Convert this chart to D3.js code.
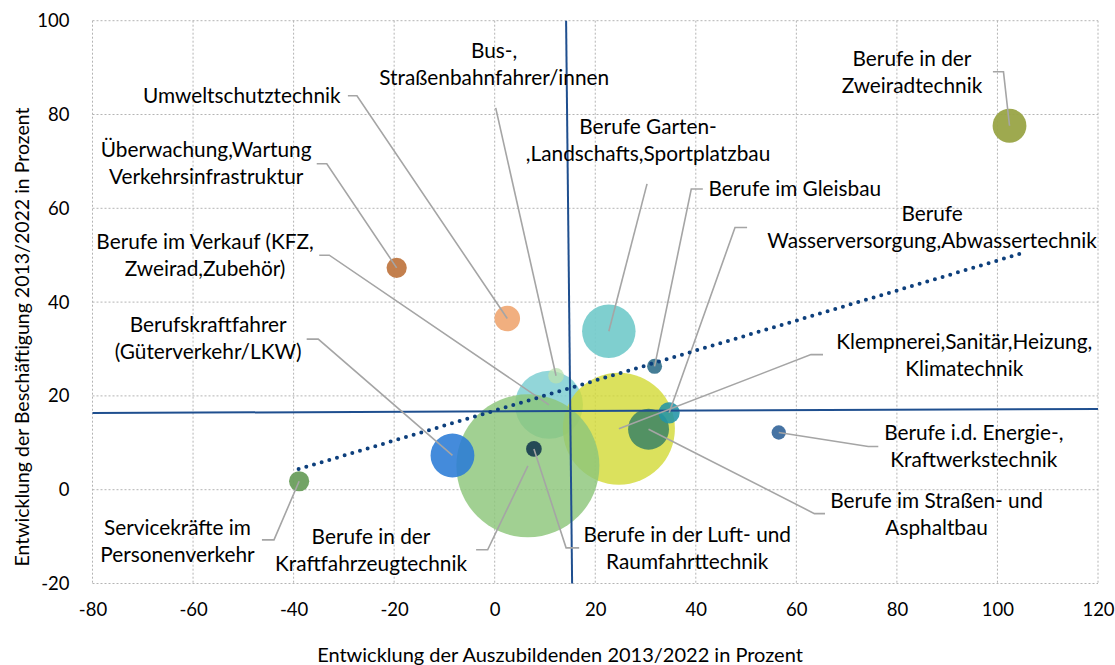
<!DOCTYPE html>
<html>
<head>
<meta charset="utf-8">
<script src="https://cdn.jsdelivr.net/npm/d3@7"></script>
<style>
  body { margin: 0; background: #fff; }
  svg text { font-family: Lato, "Open Sans", sans-serif; fill: #000; }
</style>
</head>
<body>
<svg id="chart" width="1115" height="665"></svg>
<script>
// Berufe (Reihenfolge = Zeichenreihenfolge)
const berufe = [
  ["Berufe im Verkauf (KFZ,", "Zweirad,Zubehör)"],
  ["Klempnerei,Sanitär,Heizung,", "Klimatechnik"],
  ["Berufe in der", "Kraftfahrzeugtechnik"],
  ["Berufskraftfahrer", "(Güterverkehr/LKW)"],
  ["Berufe Garten-", ",Landschafts,Sportplatzbau"],
  ["Berufe im Straßen- und", "Asphaltbau"],
  ["Berufe", "Wasserversorgung,Abwassertechnik"],
  ["Berufe im Gleisbau"],
  ["Berufe in der Luft- und", "Raumfahrttechnik"],
  ["Bus-,", "Straßenbahnfahrer/innen"],
  ["Umweltschutztechnik"],
  ["Überwachung,Wartung", "Verkehrsinfrastruktur"],
  ["Servicekräfte im", "Personenverkehr"],
  ["Berufe i.d. Energie-,", "Kraftwerkstechnik"],
  ["Berufe in der", "Zweiradtechnik"]
];
// Entwicklung der Auszubildenden 2013/2022 in %
const azubis = [10.8, 24.7, 6.6, -8.4, 22.7, 30.6, 34.7, 31.8, 7.8, 12.2, 2.5, -19.5, -38.9, 56.5, 102.4];
// Entwicklung der Beschäftigung 2013/2022 in %
const beschaeftigung = [18.1, 13.0, 5.1, 7.3, 33.8, 12.9, 16.4, 26.3, 8.7, 24.3, 36.5, 47.3, 1.8, 12.2, 77.6];
// Blasengröße (relativ)
const groesse = [113, 307, 500, 47, 70, 41, 11, 5.5, 6, 6, 16, 10, 10, 5, 28];

// Beschriftungen in Datenkoordinaten: Textmitte, Start und Knick der Führungslinie
const labelX = [-57.6, 93.4, -24.6, -57.0, 30.5, 87.9, 87.0, 59.7, 38.3, -0.1, -50.3, -57.4, -63.1, 95.3, 83.0];
const labelY = [52.9, 31.6, -10.0, 35.2, 77.3, -2.3, 58.8, 64.1, -9.6, 93.6, 84.0, 72.5, -8.2, 12.1, 92.0];
const leaderStart = [[-34.9, 50.0], [65.3, 28.8], [-3.7, -12.8], [-37.4, 32.1], [30.3, 65.2], [65.7, -5.1], [50.2, 55.9], [41.4, 64.1], [16.8, -12.4], [0.2, 81.4], [-29.2, 84.0], [-35.4, 69.5], [-46.3, -10.7], [76.3, 9.2], [99.1, 89.1]];
const leaderBend = [[-32.9, 50.0], [62.9, 28.8], [-1.4, -12.8], [-35.1, 32.1], null, [63.6, -5.1], [47.8, 55.9], [39.1, 64.1], [14.2, -12.4], null, [-27.4, 84.0], [-33.4, 69.5], [-43.9, -10.7], [74.3, 9.2], [101.2, 89.1]];

// Mittelwertlinien und Trendlinie
const mittelVertikal = [[14.2, 100], [15.4, -20]];
const mittelHorizontal = [[-80, 16.35], [120, 17.2]];
const trend = [[-39.0, 4.4], [104.5, 50.3]];

const xTicks = [-80, -60, -40, -20, 0, 20, 40, 60, 80, 100, 120];
const yTicks = [-20, 0, 20, 40, 60, 80, 100];

const farben = ["#7fcfd2", "#d2da35", "#8cc67a", "#2a7bd6", "#74cbcb", "#3f8564", "#2294a6", "#3b7690", "#244a56", "#b9e1ae", "#f0ab78", "#c07843", "#6a9e5d", "#3c6b9e", "#99a446"];
const deckkraft = [0.85, 0.8, 0.82, 0.88, 0.92, 0.88, 0.88, 0.95, 1, 0.75, 0.95, 0.95, 0.95, 0.95, 0.95];

const svg = d3.select("#chart");
const x = d3.scaleLinear().domain([-80, 120]).range([92.5, 1098]);
const y = d3.scaleLinear().domain([-20, 100]).range([583.5, 20.7]);
const r = d3.scaleSqrt().domain([0, 500]).range([0, 71.5]);

// Gitter
const grid = svg.append("g").attr("stroke", "#b4b4b4").attr("stroke-width", 1).attr("stroke-dasharray", "2,2");
grid.selectAll(".gx").data(xTicks).enter().append("line")
  .attr("x1", d => x(d)).attr("x2", d => x(d))
  .attr("y1", y(100)).attr("y2", y(-20));
grid.selectAll(".gy").data(yTicks).enter().append("line")
  .attr("x1", x(-80)).attr("x2", x(120))
  .attr("y1", d => y(d)).attr("y2", d => y(d));

// Achsen
const xAxis = svg.append("g")
  .attr("transform", "translate(0," + (y(-20) + 16) + ")")
  .call(d3.axisBottom(x).tickValues(xTicks).tickSize(0).tickFormat(d => String(d)));
xAxis.select(".domain").remove();
xAxis.selectAll("text").attr("font-size", 18.5).attr("dy", "0.71em");

const yAxis = svg.append("g")
  .attr("transform", "translate(" + (x(-80) - 20) + ",0)")
  .call(d3.axisLeft(y).tickValues(yTicks).tickSize(0).tickFormat(d => String(d)));
yAxis.select(".domain").remove();
yAxis.selectAll("text").attr("font-size", 18.5);

svg.append("text").attr("x", 560).attr("y", 655).attr("dy", "0.35em")
  .attr("text-anchor", "middle").attr("font-size", 20)
  .text("Entwicklung der Auszubildenden 2013/2022 in Prozent");
svg.append("text").attr("transform", "translate(22,337) rotate(-90)").attr("dy", "0.35em")
  .attr("text-anchor", "middle").attr("font-size", 19.5)
  .text("Entwicklung der Beschäftigung 2013/2022 in Prozent");

// Blasen
const idx = d3.range(berufe.length);
svg.append("g").selectAll("circle").data(idx).enter().append("circle")
  .attr("cx", i => x(azubis[i]))
  .attr("cy", i => y(beschaeftigung[i]))
  .attr("r", i => r(groesse[i]))
  .attr("fill", i => farben[i])
  .attr("fill-opacity", i => deckkraft[i]);

// Mittelwertlinien
const line = d3.line().x(d => x(d[0])).y(d => y(d[1]));
svg.append("path").datum(mittelVertikal).attr("d", line)
  .attr("fill", "none").attr("stroke", "#1f4f8f").attr("stroke-width", 2);
svg.append("path").datum(mittelHorizontal).attr("d", line)
  .attr("fill", "none").attr("stroke", "#1f4f8f").attr("stroke-width", 2);

// Führungslinien
svg.append("g").selectAll("path").data(idx).enter().append("path")
  .attr("d", i => {
    const pts = [leaderStart[i]];
    if (leaderBend[i]) pts.push(leaderBend[i]);
    pts.push([azubis[i], beschaeftigung[i]]);
    return line(pts);
  })
  .attr("fill", "none").attr("stroke", "#a5a5a5").attr("stroke-width", 1.6);

// Trendlinie
svg.append("path").datum(trend).attr("d", line)
  .attr("fill", "none").attr("stroke", "#0d3f7c").attr("stroke-width", 4)
  .attr("stroke-linecap", "round").attr("stroke-dasharray", "0,8");

// Beschriftungen
const labels = svg.append("g").selectAll("text").data(idx).enter().append("text")
  .attr("text-anchor", "middle").attr("font-size", 20.8)
  .attr("x", i => x(labelX[i]))
  .attr("y", i => y(labelY[i]));
labels.selectAll("tspan").data(i => berufe[i].map(t => [i, t])).enter().append("tspan")
  .attr("x", d => x(labelX[d[0]]))
  .attr("dy", (d, j) => j === 0 ? "0.35em" : 27)
  .text(d => d[1]);
</script>
</body>
</html>
